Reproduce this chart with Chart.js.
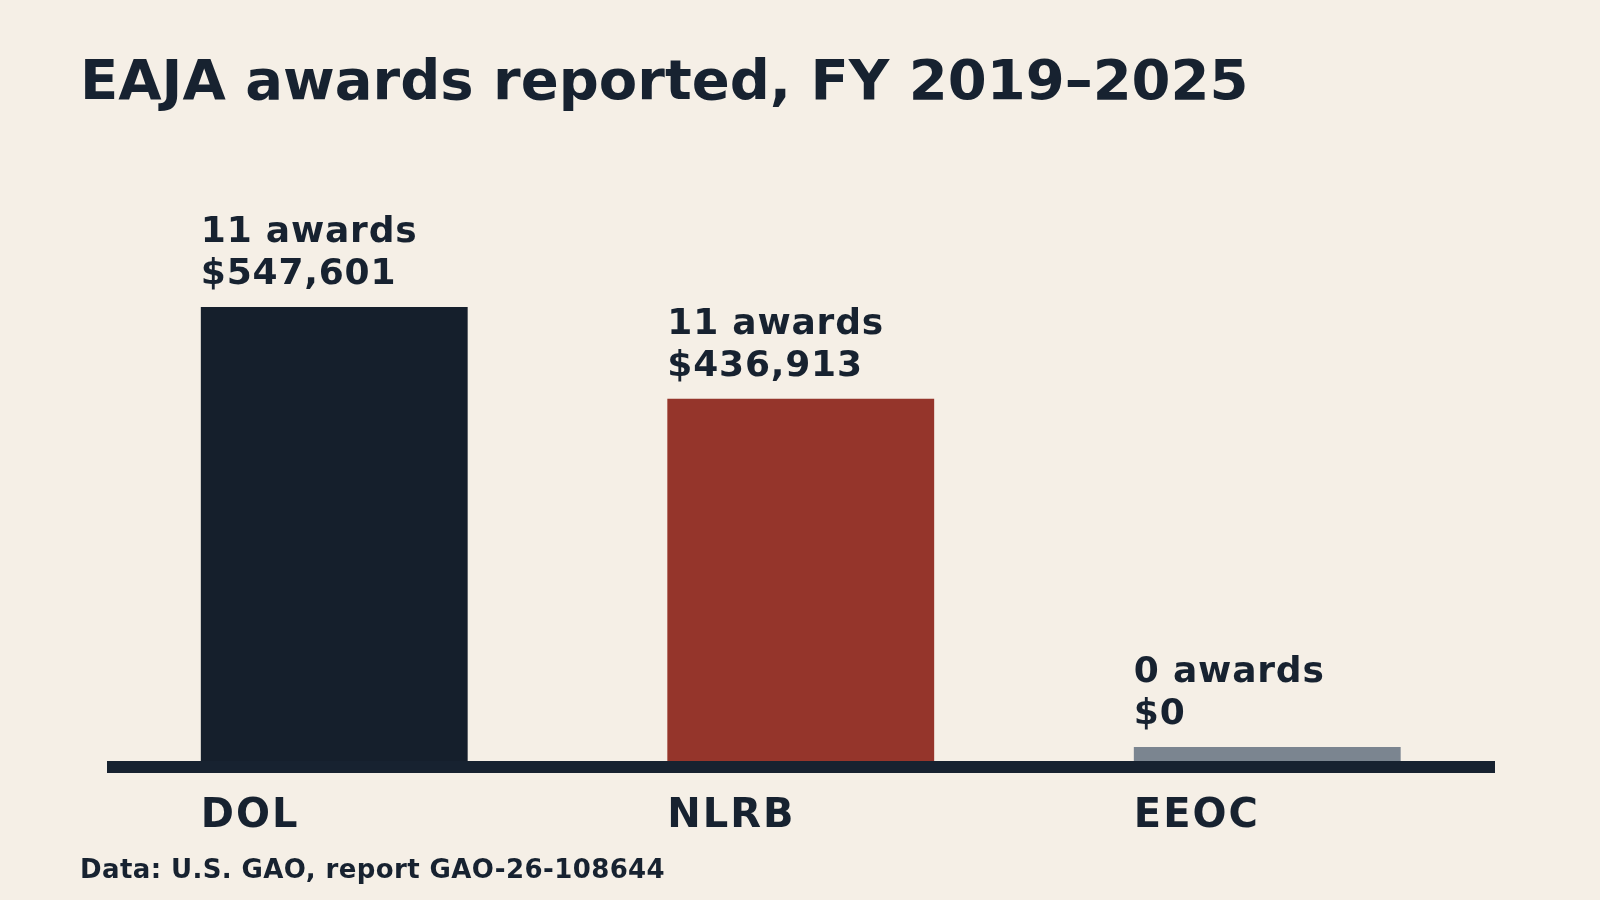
<!DOCTYPE html>
<html>
<head>
<meta charset="utf-8">
<script src="https://cdn.jsdelivr.net/npm/chart.js@4/dist/chart.umd.min.js"></script>
<style>
  html, body { margin: 0; padding: 0; background: #f5efe6; }
  #wrap { position: relative; width: 1600px; height: 900px; background: #f5efe6; overflow: hidden; }
  #title { position: absolute; left: 80px; top: 52px; margin: 0; font: bold 56px/56px "DejaVu Sans", sans-serif; color: #172230; white-space: nowrap; }
  #note { position: absolute; left: 80px; top: 856px; margin: 0; font: bold 26px/26px "DejaVu Sans", sans-serif; letter-spacing: 0.4px; color: #172230; white-space: nowrap; }
  canvas { position: absolute; left: 0; top: 0; }
</style>
</head>
<body>
<div id="wrap">
  <canvas id="c" width="1600" height="900"></canvas>
  <h1 id="title">EAJA awards reported, FY 2019–2025</h1>
  <p id="note">Data: U.S. GAO, report GAO-26-108644</p>
</div>
<script>
// ---- data ----
const agencies = ["DOL", "NLRB", "EEOC"];
const awardCounts = [11, 11, 0];
const awardDollars = [547601, 436913, 0];
const barColors = ["#151f2c", "#95352b", "#7b8590"];

const INK = "#172230";
const FONT = '"DejaVu Sans", sans-serif';

const labelPlugin = {
  id: "labels",
  beforeDatasetsDraw(chart) {
    const { ctx, chartArea } = chart;
    ctx.save();
    ctx.fillStyle = INK;
    ctx.fillRect(chartArea.left + 6, chartArea.bottom, chartArea.right - chartArea.left - 11.5, 12);
    ctx.restore();
  },
  afterDatasetsDraw(chart) {
    const { ctx } = chart;
    const meta = chart.getDatasetMeta(0);
    ctx.save();
    ctx.fillStyle = INK;
    ctx.textAlign = "left";
    ctx.textBaseline = "alphabetic";
    meta.data.forEach((bar, i) => {
      const p = bar.getProps(["x", "y", "base", "width"], true);
      const left = p.x - p.width / 2;
      const top = Math.min(p.y, p.base);
      ctx.font = "bold 36px " + FONT;
      ctx.letterSpacing = "0.8px";
      const line2 = top - 23;
      ctx.fillText(awardCounts[i] + " awards", left, line2 - 42);
      ctx.fillText("$" + awardDollars[i].toLocaleString("en-US"), left, line2);
      ctx.font = "bold 40px " + FONT;
      ctx.letterSpacing = "2px";
      ctx.fillText(agencies[i], left, 827);
    });
    ctx.restore();
  }
};

new Chart(document.getElementById("c"), {
  type: "bar",
  data: {
    labels: agencies,
    datasets: [{
      data: awardDollars,
      backgroundColor: barColors,
      borderWidth: 0,
      minBarLength: 14,
      categoryPercentage: 1,
      barPercentage: 0.572
    }]
  },
  options: {
    responsive: false,
    animation: false,
    devicePixelRatio: 1,
    layout: { padding: { left: 101, right: 99.5, top: 263.6, bottom: 139 } },
    plugins: { legend: { display: false }, tooltip: { enabled: false }, title: { display: false } },
    scales: {
      x: { display: false },
      y: { display: false, min: 0, max: 600000 }
    }
  },
  plugins: [labelPlugin]
});
</script>
</body>
</html>
